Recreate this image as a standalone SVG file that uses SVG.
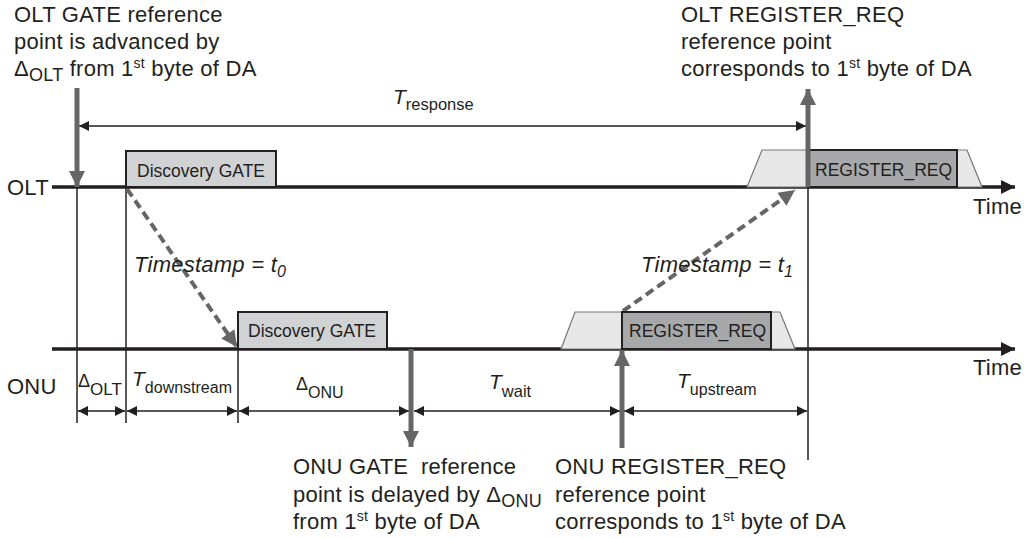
<svg xmlns="http://www.w3.org/2000/svg" width="1026" height="539" viewBox="0 0 1026 539">
<style>
text{font-family:"Liberation Sans",Arial,sans-serif;fill:#231f20;white-space:pre}
.lbl{font-size:22px;letter-spacing:0.25px}
.box{font-size:17.5px}
.it{font-style:italic}
.sub{font-size:16px}
.sup{font-size:14px}
.thin{stroke:#231f20;stroke-width:1.5;fill:none}
.axis{stroke:#231f20;stroke-width:3.5;fill:none}
.gray{stroke:#666;stroke-width:5;fill:none}
.dash{stroke:#666;stroke-width:4;stroke-dasharray:9,5;fill:none}
</style>
<defs>
<marker id="ah" viewBox="0 0 10 10" refX="10" refY="5" markerWidth="14" markerHeight="10" markerUnits="userSpaceOnUse" orient="auto"><path d="M0,0L10,5L0,10z" fill="#231f20"/></marker>
<marker id="ahs" viewBox="0 0 10 10" refX="0" refY="5" markerWidth="14" markerHeight="10" markerUnits="userSpaceOnUse" orient="auto"><path d="M10,0L0,5L10,10z" fill="#231f20"/></marker>
<marker id="axh" viewBox="0 0 10 10" refX="10" refY="5" markerWidth="22" markerHeight="14" markerUnits="userSpaceOnUse" orient="auto"><path d="M0,0L10,5L0,10z" fill="#231f20"/></marker>
<marker id="gh" viewBox="0 0 10 10" refX="10" refY="5" markerWidth="24" markerHeight="16" markerUnits="userSpaceOnUse" orient="auto"><path d="M0,0L10,5L0,10z" fill="#666"/></marker>
</defs>

<g id="connectors">
<line class="thin" x1="77" y1="187" x2="77" y2="423"/>
<line class="thin" x1="126" y1="187" x2="126" y2="423"/>
<line class="thin" x1="238" y1="349" x2="238" y2="423"/>
<line class="thin" x1="808" y1="187" x2="808" y2="460"/>
<line class="thin" x1="79" y1="126" x2="806" y2="126" marker-start="url(#ahs)" marker-end="url(#ah)"/>
<line class="thin" x1="78" y1="411" x2="125" y2="411" marker-start="url(#ahs)" marker-end="url(#ah)"/>
<line class="thin" x1="127" y1="411" x2="237" y2="411" marker-start="url(#ahs)" marker-end="url(#ah)"/>
<line class="thin" x1="239" y1="411" x2="409" y2="411" marker-start="url(#ahs)" marker-end="url(#ah)"/>
<line class="thin" x1="414" y1="411" x2="620" y2="411" marker-start="url(#ahs)" marker-end="url(#ah)"/>
<line class="thin" x1="624" y1="411" x2="807" y2="411" marker-start="url(#ahs)" marker-end="url(#ah)"/>
<line class="dash" x1="127" y1="189" x2="237" y2="347" marker-end="url(#gh)"/>
<line class="dash" x1="623" y1="311" x2="795" y2="190" marker-end="url(#gh)"/>
</g>

<g id="olt-axis">
<line class="axis" x1="52" y1="187" x2="1015" y2="187" marker-end="url(#axh)"/>
<text class="lbl" x="7" y="195">OLT</text>
<text class="lbl" x="973" y="214">Time</text>
</g>
<g id="onu-axis">
<line class="axis" x1="52" y1="349" x2="1015" y2="349" marker-end="url(#axh)"/>
<text class="lbl" x="7" y="394">ONU</text>
<text class="lbl" x="973" y="375">Time</text>
</g>

<g id="olt-discovery-gate">
<rect x="126" y="151" width="150" height="36" fill="#d1d2d4" stroke="#231f20" stroke-width="2"/>
<text class="box" x="137" y="177">Discovery GATE</text>
</g>
<g id="olt-register-req">
<path d="M747,187L762,150L967,150L982,187z" fill="#e8e8e8" stroke="#777" stroke-width="1.2"/>
<rect x="808" y="150" width="149" height="37" fill="#a7a8aa" stroke="#231f20" stroke-width="2"/>
<text class="box" x="815" y="176">REGISTER_REQ</text>
</g>
<g id="onu-discovery-gate">
<rect x="238" y="312" width="149" height="37" fill="#d1d2d4" stroke="#231f20" stroke-width="2"/>
<text class="box" x="248" y="337">Discovery GATE</text>
</g>
<g id="onu-register-req">
<path d="M561,349L575,312L780,312L795,349z" fill="#e8e8e8" stroke="#777" stroke-width="1.2"/>
<rect x="622" y="312" width="149" height="37" fill="#a7a8aa" stroke="#231f20" stroke-width="2"/>
<text class="box" x="629" y="337">REGISTER_REQ</text>
</g>

<g id="olt-gate-ref">
<line class="gray" x1="77" y1="88" x2="77" y2="187" marker-end="url(#gh)"/>
<text class="lbl" x="14" y="22">OLT GATE reference</text>
<text class="lbl" x="14" y="49">point is advanced by</text>
<text class="lbl" x="14" y="76">Δ<tspan font-size="18" dy="5">OLT</tspan><tspan dy="-5"> from 1</tspan><tspan class="sup" dy="-8">st</tspan><tspan dy="8"> byte of DA</tspan></text>
</g>
<g id="olt-reg-ref">
<line class="gray" x1="808" y1="187" x2="808" y2="89" marker-end="url(#gh)"/>
<text class="lbl" x="681" y="22">OLT REGISTER_REQ</text>
<text class="lbl" x="681" y="49">reference point</text>
<text class="lbl" x="681" y="76">corresponds to 1<tspan class="sup" dy="-8">st</tspan><tspan dy="8"> byte of DA</tspan></text>
</g>
<g id="onu-gate-ref">
<line class="gray" x1="411" y1="349" x2="411" y2="447" marker-end="url(#gh)"/>
<text class="lbl" x="293" y="474">ONU GATE  reference</text>
<text class="lbl" x="293" y="502">point is delayed by Δ<tspan font-size="18" dy="5">ONU</tspan></text>
<text class="lbl" x="293" y="529">from 1<tspan class="sup" dy="-8">st</tspan><tspan dy="8"> byte of DA</tspan></text>
</g>
<g id="onu-reg-ref">
<line class="gray" x1="622" y1="448" x2="622" y2="350" marker-end="url(#gh)"/>
<text class="lbl" x="555" y="474">ONU REGISTER_REQ</text>
<text class="lbl" x="555" y="502">reference point</text>
<text class="lbl" x="555" y="529">corresponds to 1<tspan class="sup" dy="-8">st</tspan><tspan dy="8"> byte of DA</tspan></text>
</g>

<g id="labels">
<text x="393" y="104"><tspan class="it" font-size="21">T</tspan><tspan font-size="16.5" dy="6">response</tspan></text>
<text class="lbl it" x="134" y="272">Timestamp = t<tspan font-size="16" dy="5">0</tspan></text>
<text class="lbl it" x="641" y="272">Timestamp = t<tspan font-size="16" dy="5">1</tspan></text>
<text x="78" y="387"><tspan font-size="18">Δ</tspan><tspan font-size="17" dy="8">OLT</tspan></text>
<text x="132" y="386"><tspan class="it" font-size="21">T</tspan><tspan class="sub" dy="7">downstream</tspan></text>
<text x="296" y="390"><tspan font-size="18">Δ</tspan><tspan class="sub" dy="8">ONU</tspan></text>
<text x="489" y="389"><tspan class="it" font-size="21">T</tspan><tspan font-size="16.5" dy="8">wait</tspan></text>
<text x="677" y="388"><tspan class="it" font-size="21">T</tspan><tspan class="sub" dy="7">upstream</tspan></text>
</g>
</svg>
